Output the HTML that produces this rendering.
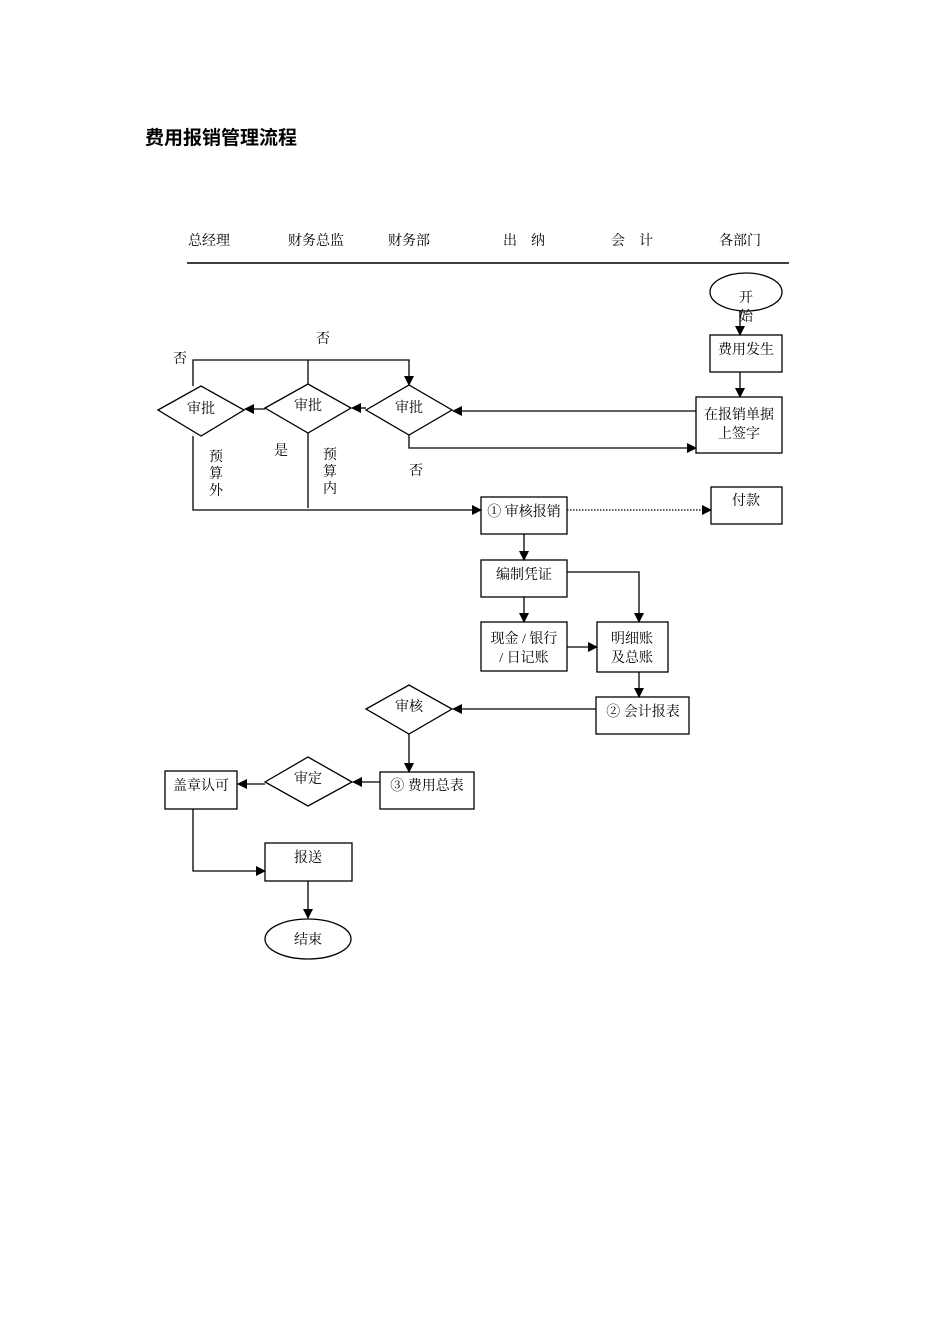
<!DOCTYPE html>
<html><head><meta charset="utf-8"><style>
html,body{margin:0;padding:0;background:#fff;}
svg{display:block;}
text{font-family:"Liberation Serif","Noto Serif CJK SC","Noto Sans CJK SC",serif;font-size:14px;fill:#000;}
</style></head><body>
<svg width="950" height="1344" viewBox="0 0 950 1344" xmlns="http://www.w3.org/2000/svg">
<defs>
<marker id="a" markerWidth="10" markerHeight="10" refX="9" refY="5" orient="auto" markerUnits="userSpaceOnUse">
<path d="M0,0 L10,5 L0,10 z" fill="#000"/></marker>
</defs>
<text x="145" y="144" style="font-family:'Liberation Sans','Noto Sans CJK SC',sans-serif;font-weight:bold;font-size:19px">费用报销管理流程</text>
<g>
<text x="188" y="245">总经理</text>
<text x="288" y="245">财务总监</text>
<text x="388" y="245">财务部</text>
<text x="503" y="245">出　纳</text>
<text x="611" y="245">会　计</text>
<text x="719" y="245">各部门</text>
</g>
<line x1="187" y1="263" x2="789" y2="263" stroke="#000" stroke-width="1.5"/>
<g fill="none" stroke="#000" stroke-width="1.3">
<ellipse cx="746" cy="292" rx="36" ry="19" fill="#fff"/>
<rect x="710" y="335" width="72" height="37"/>
<rect x="696" y="397" width="86" height="56"/>
<polygon points="366,410 409,385 452,410 409,435"/>
<polygon points="265,408 308,384 351,408 308,433"/>
<polygon points="158,410 201,386 244,410 201,436"/>
<rect x="481" y="497" width="86" height="37"/>
<rect x="711" y="487" width="71" height="37"/>
<rect x="481" y="560" width="86" height="37"/>
<rect x="481" y="622" width="86" height="49"/>
<rect x="597" y="622" width="71" height="50"/>
<rect x="596" y="697" width="93" height="37"/>
<polygon points="366,709 409,685 452,709 409,734"/>
<rect x="380" y="772" width="94" height="37"/>
<polygon points="265,782 308,757 352,782 308,806"/>
<rect x="165" y="771" width="72" height="38"/>
<rect x="265" y="843" width="87" height="38"/>
<ellipse cx="308" cy="939" rx="43" ry="20"/>
</g>
<g fill="none" stroke="#000" stroke-width="1.3">
<line x1="740" y1="311" x2="740" y2="335" marker-end="url(#a)"/>
<line x1="740" y1="372" x2="740" y2="397" marker-end="url(#a)"/>
<line x1="696" y1="411" x2="453" y2="411" marker-end="url(#a)"/>
<line x1="366" y1="408" x2="352" y2="408" marker-end="url(#a)"/>
<line x1="265" y1="409" x2="245" y2="409" marker-end="url(#a)"/>
<polyline points="193,386 193,360 409,360 409,385" marker-end="url(#a)"/>
<line x1="308" y1="360" x2="308" y2="384"/>
<polyline points="409,435 409,448 696,448" marker-end="url(#a)"/>
<polyline points="193,436 193,510 481,510" marker-end="url(#a)"/>
<line x1="308" y1="433" x2="308" y2="508"/>
<line x1="567" y1="510" x2="711" y2="510" stroke-dasharray="1.5,1.5" marker-end="url(#a)"/>
<line x1="524" y1="534" x2="524" y2="560" marker-end="url(#a)"/>
<polyline points="567,572 639,572 639,622" marker-end="url(#a)"/>
<line x1="524" y1="597" x2="524" y2="622" marker-end="url(#a)"/>
<line x1="567" y1="647" x2="597" y2="647" marker-end="url(#a)"/>
<line x1="639" y1="672" x2="639" y2="697" marker-end="url(#a)"/>
<line x1="596" y1="709" x2="453" y2="709" marker-end="url(#a)"/>
<line x1="409" y1="734" x2="409" y2="772" marker-end="url(#a)"/>
<line x1="380" y1="782" x2="353" y2="782" marker-end="url(#a)"/>
<line x1="265" y1="784" x2="238" y2="784" marker-end="url(#a)"/>
<polyline points="193,809 193,871 265,871" marker-end="url(#a)"/>
<line x1="308" y1="881" x2="308" y2="918" marker-end="url(#a)"/>
</g>
<g text-anchor="middle">
<text x="746" y="302">开</text>
<text x="746" y="321">始</text>
<text x="746" y="354">费用发生</text>
<text x="739" y="419">在报销单据</text>
<text x="739" y="438">上签字</text>
<text x="409" y="412">审批</text>
<text x="308" y="410">审批</text>
<text x="201" y="413">审批</text>
<text x="180" y="363">否</text>
<text x="323" y="343">否</text>
<text x="281" y="455">是</text>
<text x="216" y="461">预</text><text x="216" y="478">算</text><text x="216" y="495">外</text>
<text x="330" y="459">预</text><text x="330" y="476">算</text><text x="330" y="493">内</text>
<text x="416" y="475">否</text>
<text x="524" y="516">① 审核报销</text>
<text x="746" y="505">付款</text>
<text x="524" y="579">编制凭证</text>
<text x="524" y="643">现金 / 银行</text>
<text x="524" y="662">/ 日记账</text>
<text x="632" y="643">明细账</text>
<text x="632" y="662">及总账</text>
<text x="643" y="716">② 会计报表</text>
<text x="409" y="711">审核</text>
<text x="427" y="790">③ 费用总表</text>
<text x="308" y="783">审定</text>
<text x="201" y="790">盖章认可</text>
<text x="308" y="862">报送</text>
<text x="308" y="944">结束</text>
</g>
</svg>
</body></html>
